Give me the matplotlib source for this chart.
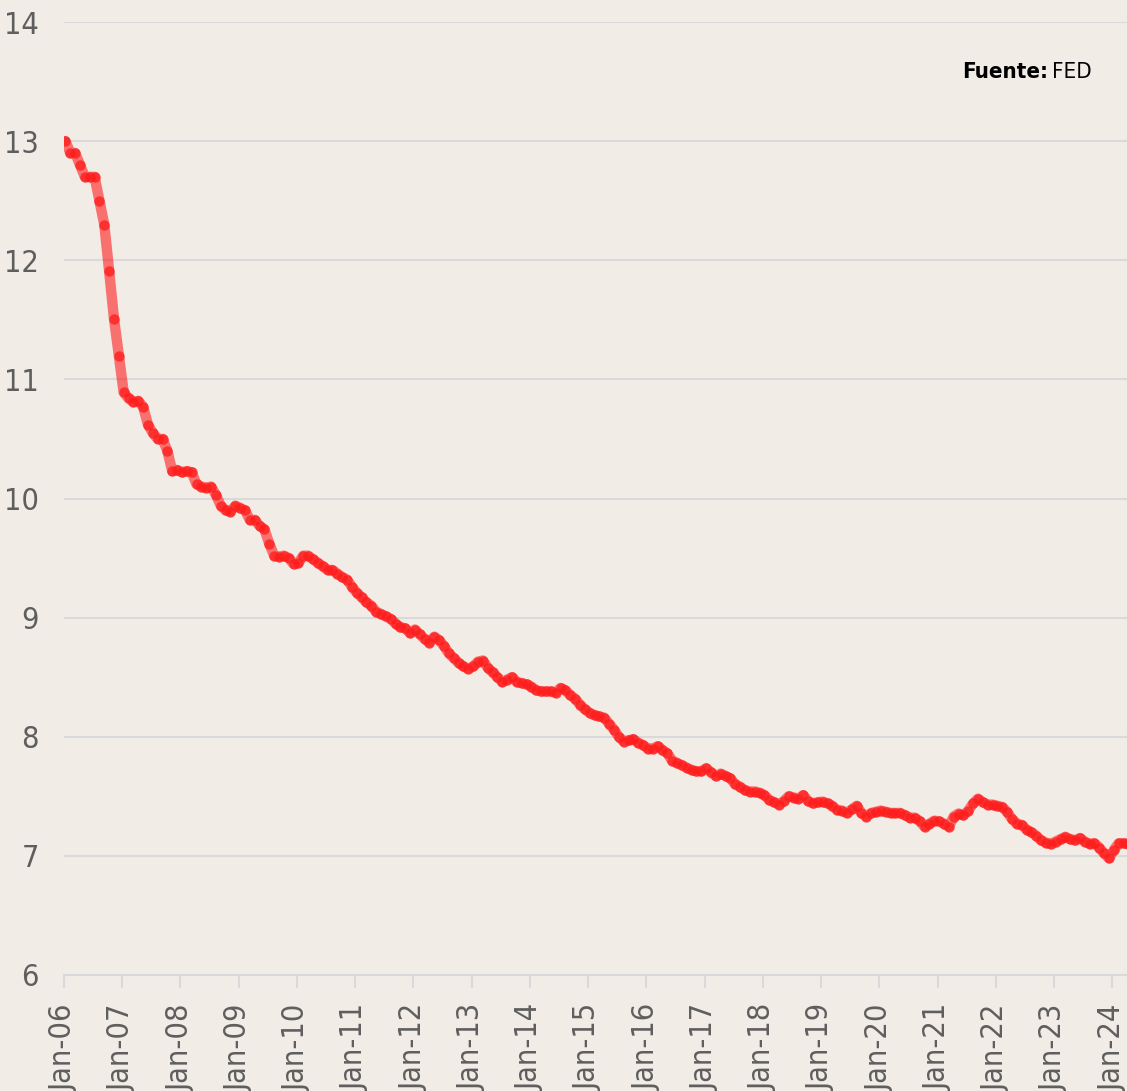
import matplotlib
matplotlib.use('Agg')
import matplotlib.pyplot as plt
from matplotlib import font_manager
import numpy as np

# tasa mensual, Jan-06 .. Mar-24
valores = [
    13.0, 12.9, 12.9, 12.8, 12.7, 12.7, 12.7, 12.5, 12.3, 11.91, 11.51, 11.2,
    10.89, 10.84, 10.81, 10.82, 10.77, 10.62, 10.55, 10.50, 10.50, 10.40, 10.23, 10.24,
    10.22, 10.23, 10.22, 10.12, 10.10, 10.09, 10.10, 10.03, 9.94, 9.90, 9.89, 9.94,
    9.92, 9.90, 9.82, 9.82, 9.77, 9.74, 9.62, 9.52, 9.51, 9.52, 9.50, 9.45,
    9.46, 9.52, 9.52, 9.49, 9.46, 9.43, 9.40, 9.40, 9.37, 9.34, 9.32, 9.26,
    9.21, 9.17, 9.13, 9.10, 9.05, 9.03, 9.01, 8.99, 8.95, 8.92, 8.91, 8.87,
    8.90, 8.86, 8.82, 8.79, 8.84, 8.81, 8.76, 8.70, 8.66, 8.62, 8.59, 8.57,
    8.59, 8.63, 8.64, 8.58, 8.54, 8.50, 8.46, 8.48, 8.50, 8.46, 8.45, 8.44,
    8.42, 8.39, 8.38, 8.38, 8.38, 8.37, 8.41, 8.39, 8.35, 8.32, 8.27, 8.23,
    8.20, 8.18, 8.17, 8.16, 8.11, 8.06, 8.00, 7.96, 7.97, 7.98, 7.95, 7.93,
    7.90, 7.90, 7.92, 7.89, 7.86, 7.80, 7.78, 7.76, 7.74, 7.72, 7.71, 7.71,
    7.735, 7.70, 7.67, 7.69, 7.67, 7.65, 7.60, 7.58, 7.55, 7.54, 7.54, 7.53,
    7.51, 7.47, 7.45, 7.43, 7.46, 7.50, 7.49, 7.48, 7.51, 7.46, 7.44, 7.45,
    7.455, 7.44, 7.42, 7.385, 7.38, 7.36, 7.39, 7.42, 7.36, 7.33, 7.36, 7.37,
    7.38, 7.37, 7.36, 7.36, 7.36, 7.34, 7.32, 7.32, 7.29, 7.245, 7.27, 7.295,
    7.29, 7.27, 7.245, 7.33, 7.355, 7.34, 7.38, 7.44, 7.48, 7.45, 7.43, 7.43,
    7.42, 7.41, 7.37, 7.31, 7.27, 7.26, 7.22, 7.20, 7.17, 7.13, 7.11, 7.10,
    7.12, 7.14, 7.16, 7.14, 7.13, 7.15, 7.12, 7.10, 7.105, 7.07, 7.02, 6.98,
    7.05, 7.105, 7.105, 7.10,
]
anios = ['06', '07', '08', '09', '10', '11', '12', '13', '14', '15',
         '16', '17', '18', '19', '20', '21', '22', '23', '24']
etiquetas_x = ['Jan-' + a for a in anios]
y_ticks = [6, 7, 8, 9, 10, 11, 12, 13, 14]

# buscar alguna fuente estrecha instalada (la original es condensada)
estrecha = None
for f in font_manager.fontManager.ttflist:
    nombre = f.name.lower()
    if 'narrow' in nombre or 'condensed' in nombre or f.stretch in ('condensed', 'semi-condensed', 'extra-condensed'):
        estrecha = f
        break

if estrecha is not None:
    props = dict(family=estrecha.name, stretch=estrecha.stretch)
    tam = 22
    tam_fuente = 16
else:
    props = dict(family='DejaVu Sans')
    tam = 16
    tam_fuente = 13

gris = '#5e5e5e'
fondo = '#f2ece7'

fig = plt.figure(figsize=(11.27, 10.91), dpi=100)
fig.patch.set_facecolor(fondo)
ax = fig.add_axes([64 / 1127, 116 / 1091, 1 - 64 / 1127, (975 - 22) / 1091])
ax.set_facecolor(fondo)

meses = np.arange(len(valores)) + 0.3
ax.plot(meses, valores, color='#ff0000', alpha=0.52, lw=7.5, solid_capstyle='round', zorder=3)
ax.plot(meses, valores, ls='none', marker='o', ms=7.5, mec='none', mfc='#ff1a1a', alpha=0.75, zorder=4)

ax.set_ylim(6, 14)
ax.set_xlim(0, 219)
ax.set_yticks(y_ticks)
ax.set_yticklabels([str(v) for v in y_ticks], fontsize=tam, color=gris, **props)
ax.set_xticks(np.arange(len(anios)) * 12)
ax.set_xticklabels(etiquetas_x, rotation=90, fontsize=tam, color=gris, **props)

ax.grid(axis='y', color='#d9d9d9', lw=1.5, zorder=0)
for s in ['top', 'right', 'left']:
    ax.spines[s].set_visible(False)
ax.spines['bottom'].set_color('#d9d9d9')
ax.spines['bottom'].set_linewidth(1.5)
ax.tick_params(axis='y', length=0, pad=18)
ax.tick_params(axis='x', length=9, width=1.5, color='#d9d9d9', pad=12, direction='out')

t_fed = fig.text(1092 / 1127, 1 - 72 / 1091, 'FED', fontsize=tam_fuente, color='black',
                 va='center', ha='right', **props)
fig.canvas.draw()
bb = t_fed.get_window_extent()
fig.text((bb.x0 - 4) / 1127, 1 - 72 / 1091, 'Fuente:', fontsize=tam_fuente, fontweight='bold',
         color='black', va='center', ha='right', **props)

fig.savefig('out.png', dpi=100, facecolor=fondo)
